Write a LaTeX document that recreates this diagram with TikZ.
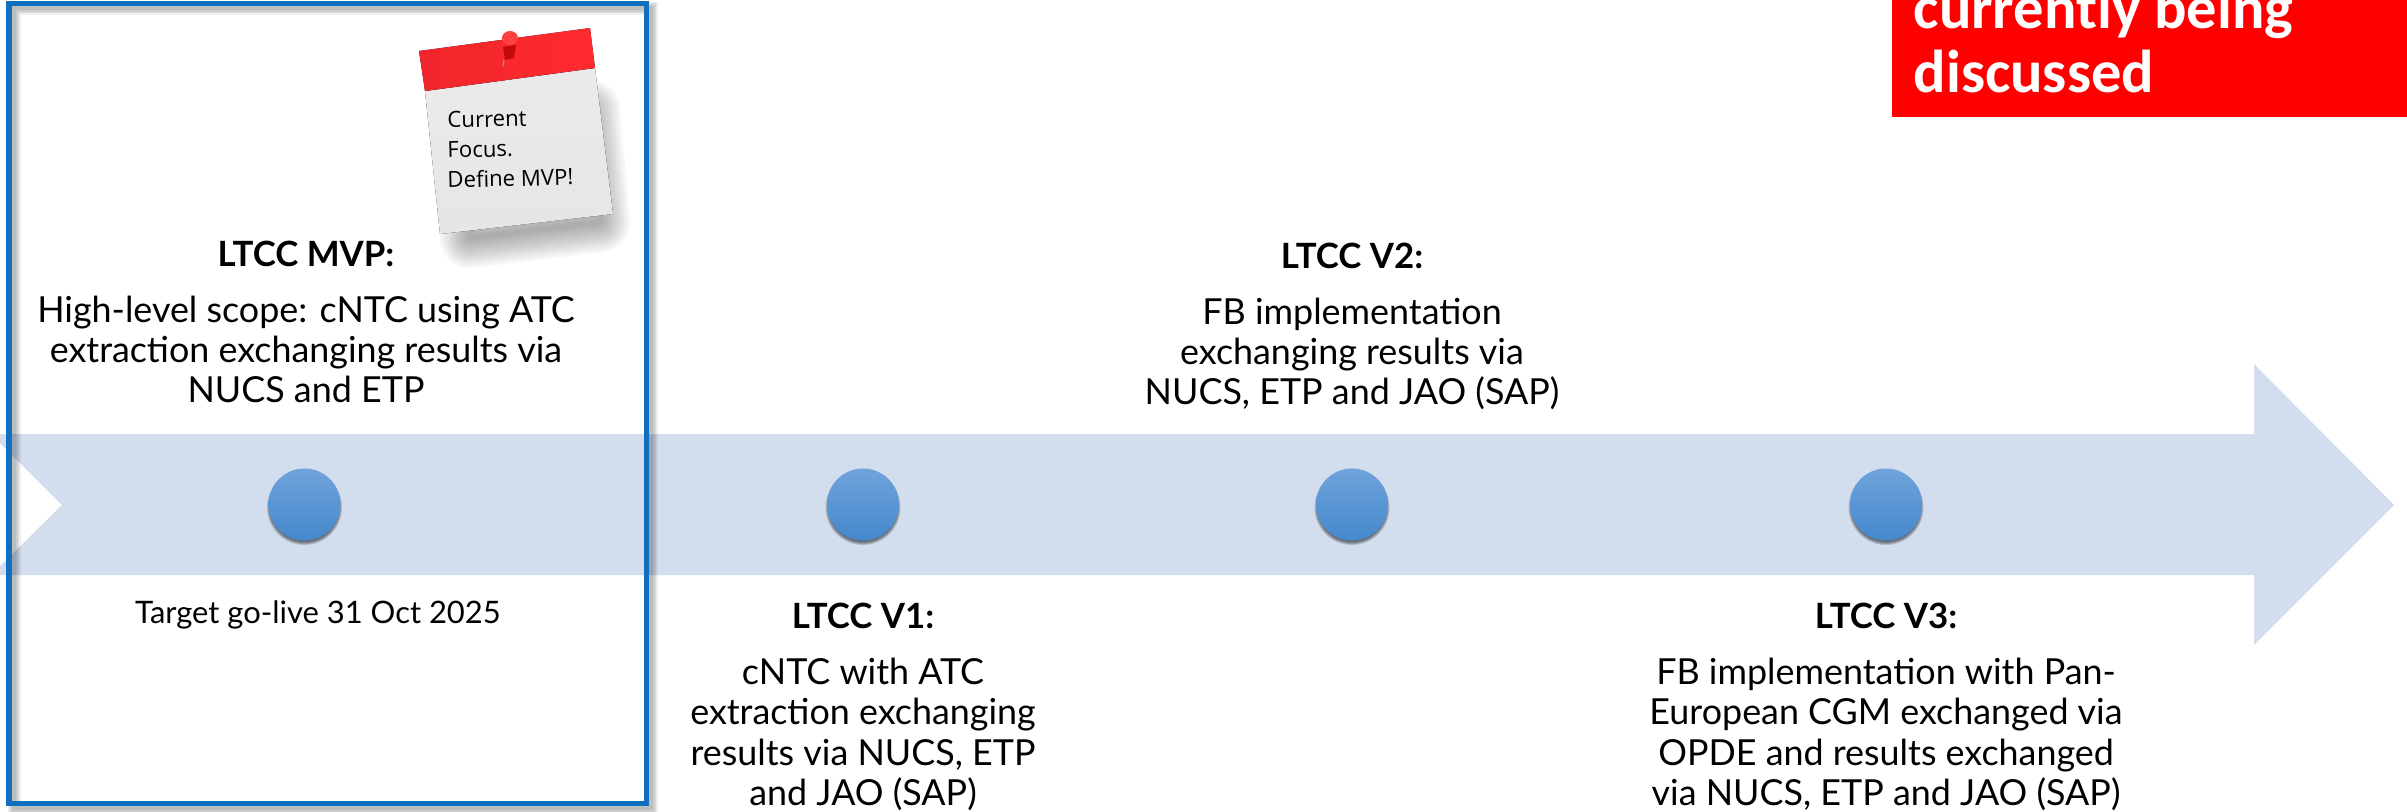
\documentclass[tikz,border=0pt]{standalone}
\usepackage{fontspec}
\setmainfont{Lato}
\newfontfamily\notefont{Open Sans}
\newfontfamily\flagfont{Carlito}
\definecolor{bandblue}{HTML}{D2DDEE}
\definecolor{framecol}{HTML}{0F70C0}
\definecolor{balltop}{HTML}{70A3DC}
\definecolor{ballbottom}{HTML}{4488CC}
\definecolor{notered}{HTML}{F0262C}
\definecolor{noteredb}{HTML}{FF2A2E}
\tikzset{
  bodytext/.style={anchor=base,align=center,inner sep=0pt,text=black,font=\fontsize{10.2}{12}\selectfont},
  headtext/.style={anchor=base,inner sep=0pt,text=black,font=\fontsize{9.9}{12}\selectfont\bfseries},
  flagtext/.style={anchor=base west,inner sep=0pt,text=white,font=\fontsize{17.2}{19}\selectfont\flagfont\bfseries},
  notetext/.style={anchor=base west,inner sep=0pt,text=black,rotate=1.5,font=\fontsize{6.3}{8}\selectfont\notefont},
  milestone/.style={circle,minimum size=0.72cm,inner sep=0pt,top color=balltop,bottom color=ballbottom},
}
\begin{document}
\begin{tikzpicture}[x=0.01cm,y=-0.01cm]
  \clip (0,0) rectangle (2407,811);
  \fill[white] (0,0) rectangle (2407,811);

  \fill[bandblue] (-9,434) -- (2254,434) -- (2254,364) -- (2394,505) -- (2254,645) -- (2254,575) -- (-9,575) -- (62,505) -- cycle;% timeline arrow

  \foreach \x/\name in {304.5/mvp,863/vone,1352/vtwo,1886/vthree}{
    \foreach \r in {37.5,36.5,35.5,34.5}
      \fill[black,opacity=0.16] (\x,507.5) circle (\r);% soft shadow under the ball
    \node[milestone] (\name) at (\x,504.5) {};
  }

  % shadow of the frame, on both sides of the line
  \foreach \w in {13,10,7,4}
    \draw[black,opacity=0.07,line width=\w*0.01cm] (14,8) rectangle (651,808);
  \draw[framecol,line width=0.05cm] (9,3) rectangle (646,803);

  % pinned note
  \foreach \w in {60,54,48,42,36,30,24,18,12,6}
    \draw[black,opacity=0.035,line join=round,line width=\w*0.01cm] (480,130) -- (590,110) -- (600,222) -- (470,238) -- cycle;
  \fill[top color=white!92!black,bottom color=white!90!black] (425,91) -- (595,68) -- (613,214) -- (440,234) -- cycle;
  \fill[left color=notered,right color=noteredb] (419,51) -- (590,28) -- (595,68) -- (425,91) -- cycle;
  \fill[red!70!black,opacity=0.75] (503,47) -- (516,45) -- (514,58) -- (505,60) -- cycle;
  \draw[white!60!black,line width=0.012cm] (504,60) -- (503,66);
  \fill[red!75!white] (510,38) ellipse (8 and 7);
  \node[notetext] (notea) at (447,128) {Current};
  \node[notetext] (noteb) at (447,158) {Focus.};
  \node[notetext] (notec) at (447,188) {Define MVP!};

  \node[headtext] (mvphead) at (306,266) {LTCC MVP:};
  \node[bodytext] (mvpa) at (306,322) {High-level scope: cNTC using ATC};
  \node[bodytext] (mvpb) at (306,362) {extraction exchanging results via};
  \node[bodytext] (mvpc) at (306,402) {NUCS and ETP};
  \node[bodytext,font=\fontsize{8.8}{10}\selectfont] (golive) at (318,623) {Target go-live 31 Oct 2025};

  \node[headtext] (vonehead) at (863,628) {LTCC V1:};
  \node[bodytext] (vonea) at (863,684) {cNTC with ATC};
  \node[bodytext] (voneb) at (863,724) {extraction exchanging};
  \node[bodytext] (vonec) at (863,765) {results via NUCS, ETP};
  \node[bodytext] (voned) at (863,805) {and JAO (SAP)};

  \node[headtext] (vtwohead) at (1352,268) {LTCC V2:};
  \node[bodytext] (vtwoa) at (1352,324) {FB implementation};
  \node[bodytext] (vtwob) at (1352,364) {exchanging results via};
  \node[bodytext] (vtwoc) at (1352,404) {NUCS, ETP and JAO (SAP)};

  \node[headtext] (vthreehead) at (1886,628) {LTCC V3:};
  \node[bodytext] (vthreea) at (1886,684) {FB implementation with Pan-};
  \node[bodytext] (vthreeb) at (1886,724) {European CGM exchanged via};
  \node[bodytext] (vthreec) at (1886,765) {OPDE and results exchanged};
  \node[bodytext] (vthreed) at (1886,805) {via NUCS, ETP and JAO (SAP)};

  \fill[red] (1892,-10) rectangle (2420,117);% flag in the corner
  \node[flagtext] (flaga) at (1913,28) {currently being};
  \node[flagtext] (flagb) at (1913,92) {discussed};
\end{tikzpicture}
\end{document}
